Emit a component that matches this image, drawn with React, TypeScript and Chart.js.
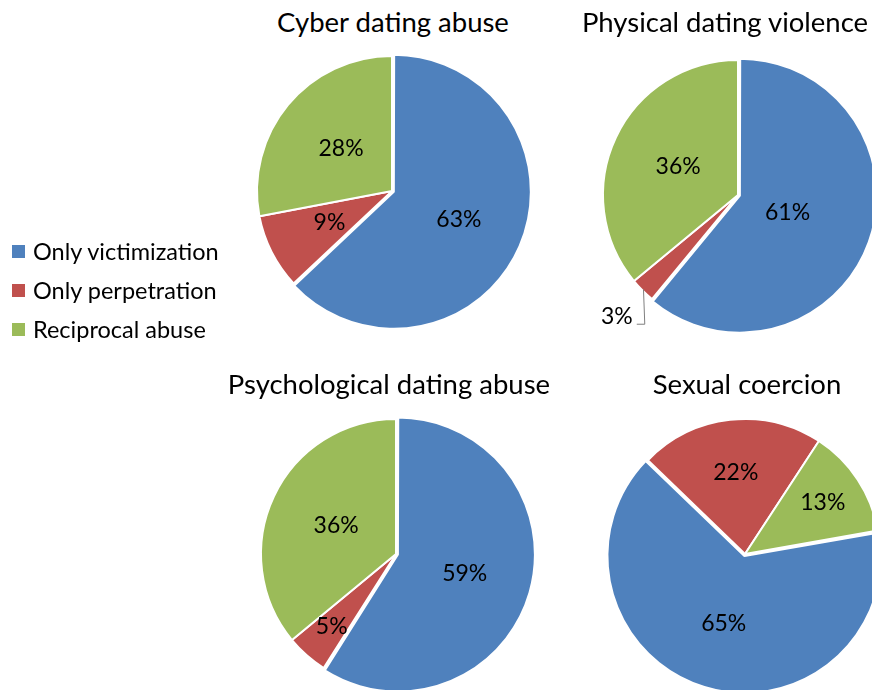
import React, { useEffect, useRef } from "react";
import { Chart, registerables } from "chart.js";

Chart.register(...registerables);

const categories = ["Only victimization", "Only perpetration", "Reciprocal abuse"];
const sliceColors = ["#4F81BD", "#C0504D", "#9BBB59"];

const cyberValues = [63, 9, 28];
const physicalValues = [61, 3, 36];
const psychologicalValues = [59, 5, 36];
const sexualValues = [65, 22, 13];

const FONT = "Lato, 'Open Sans', sans-serif";

type PieProps = {
  title: string;
  values: number[];
  cx: number;
  cy: number;
  r: number;
  rotation: number;
  fracs: number[];
  titleX: number;
  titleY: number;
};

function Pie({ title, values, cx, cy, r, rotation, fracs, titleX, titleY }: PieProps) {
  const ref = useRef<HTMLCanvasElement>(null);
  const half = r + 45;
  useEffect(() => {
    if (!ref.current) return;
    const labelPlugin = {
      id: "pctLabels",
      afterDatasetsDraw(chart: any) {
        const ctx = chart.ctx;
        const meta = chart.getDatasetMeta(0);
        ctx.save();
        ctx.font = `23px ${FONT}`;
        ctx.fillStyle = "#000";
        ctx.textAlign = "center";
        ctx.textBaseline = "middle";
        meta.data.forEach((arc: any, i: number) => {
          const p = arc.getProps(["x", "y", "startAngle", "endAngle", "outerRadius"], true);
          const mid = (p.startAngle + p.endAngle) / 2;
          const f = fracs[i];
          const lx = p.x + Math.cos(mid) * p.outerRadius * f;
          const ly = p.y + Math.sin(mid) * p.outerRadius * f;
          if (f > 1) {
            const sx = p.x + Math.cos(mid) * p.outerRadius * 0.99;
            const sy = p.y + Math.sin(mid) * p.outerRadius * 0.99;
            ctx.strokeStyle = "#7f7f7f";
            ctx.lineWidth = 1;
            ctx.beginPath();
            ctx.moveTo(sx, sy);
            ctx.lineTo(lx + 28, ly + 8);
            ctx.lineTo(lx + 20, ly + 8);
            ctx.stroke();
          }
          ctx.fillText(values[i] + "%", lx, ly);
        });
        ctx.restore();
      },
    };
    const chart = new Chart(ref.current, {
      type: "pie",
      data: {
        labels: categories,
        datasets: [
          {
            data: values,
            backgroundColor: sliceColors,
            borderColor: "#ffffff",
            borderWidth: 2,
            offset: [8, 0, 0],
          },
        ],
      },
      options: {
        animation: false,
        responsive: false,
        rotation,
        radius: r,
        layout: { padding: 0 },
        plugins: {
          legend: { display: false },
          tooltip: { enabled: false },
          title: { display: false },
        },
      } as any,
      plugins: [labelPlugin],
    });
    return () => chart.destroy();
  }, []);
  return (
    <>
      <div
        style={{
          position: "absolute",
          left: titleX - 250,
          width: 500,
          top: titleY - 17,
          height: 34,
          lineHeight: "34px",
          textAlign: "center",
          fontFamily: FONT,
          fontSize: 27.5,
          color: "#000",
          whiteSpace: "nowrap",
        }}
      >
        {title}
      </div>
      <canvas
        ref={ref}
        width={half * 2}
        height={half * 2}
        style={{ position: "absolute", left: cx - half, top: cy - half, width: half * 2, height: half * 2 }}
      />
    </>
  );
}

export default function App() {
  return (
    <div
      style={{
        position: "absolute",
        left: 0,
        top: 0,
        width: 872,
        height: 690,
        overflow: "hidden",
        background: "#fff",
      }}
    >
      <Pie title="Cyber dating abuse" values={cyberValues} cx={392} cy={191} r={135} rotation={0}
        fracs={[0.54, 0.52, 0.49]} titleX={393} titleY={22} />
      <Pie title="Physical dating violence" values={physicalValues} cx={738} cy={195} r={135} rotation={0}
        fracs={[0.39, 1.27, 0.49]} titleX={725} titleY={22} />
      <Pie title="Psychological dating abuse" values={psychologicalValues} cx={396} cy={554} r={135} rotation={0}
        fracs={[0.53, 0.72, 0.49]} titleX={389} titleY={384} />
      <Pie title="Sexual coercion" values={sexualValues} cx={745} cy={554} r={135} rotation={80}
        fracs={[0.54, 0.61, 0.69]} titleX={747} titleY={384} />
      {categories.map((c, i) => (
        <div key={c} style={{ position: "absolute", left: 12, top: 251 + i * 39 - 14, height: 28, display: "flex", alignItems: "center" }}>
          <div style={{ width: 13, height: 13, background: sliceColors[i] }} />
          <div style={{ marginLeft: 8, fontFamily: FONT, fontSize: 23.5, lineHeight: "28px", color: "#000", whiteSpace: "nowrap" }}>
            {c}
          </div>
        </div>
      ))}
    </div>
  );
}
